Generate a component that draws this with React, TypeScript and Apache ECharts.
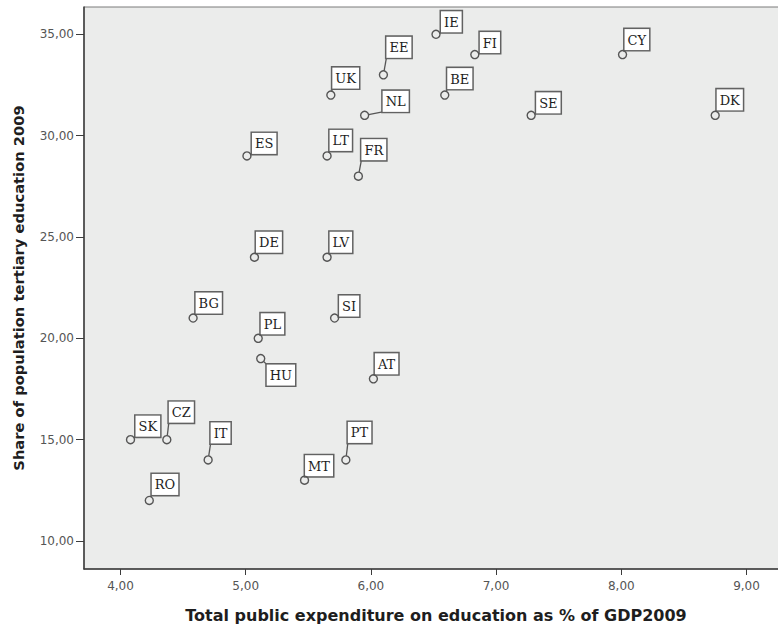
import React, { useEffect, useRef } from "react";
import * as echarts from "echarts";

// Country codes, x = public expenditure on education (% of GDP 2009), y = share tertiary education 2009
const countries = ["IE", "FI", "CY", "EE", "UK", "BE", "NL", "SE", "DK", "ES", "LT", "FR", "DE", "LV", "BG", "SI", "PL", "HU", "AT", "SK", "CZ", "IT", "PT", "MT", "RO"];
const expenditure = [6.52, 6.83, 8.01, 6.10, 5.68, 6.59, 5.95, 7.28, 8.75, 5.01, 5.65, 5.90, 5.07, 5.65, 4.58, 5.71, 5.10, 5.12, 6.02, 4.08, 4.37, 4.70, 5.80, 5.47, 4.23];
const tertiary = [35, 34, 34, 33, 32, 32, 31, 31, 31, 29, 29, 28, 24, 24, 21, 21, 20, 19, 18, 15, 15, 14, 14, 13, 12];

const xTicks = [4, 5, 6, 7, 8, 9];
const yTicks = [10, 15, 20, 25, 30, 35];

// Label box placement (pixel offset of the box corner from the point; last flag: box below point)
const labelPlacement: Record<string, [number, number, boolean]> = {
  IE: [5, -2, false], FI: [5, -1.5, false], CY: [2, -4.5, false], EE: [3, -17, false],
  UK: [1.5, -6.5, false], BE: [2.5, -6, false], NL: [18, -3.5, false], SE: [5, -2, false],
  DK: [1.5, -5, false], ES: [5, -2, false], LT: [2.5, -5, false], FR: [3, -16, false],
  DE: [1.5, -4.5, false], LV: [2.5, -4.5, false], BG: [2.5, -4.5, false], SI: [4.5, -1.5, false],
  PL: [2.5, -4, false], HU: [6, 6, true], AT: [1.5, -4.5, false], SK: [5, -3, false],
  CZ: [2, -17, false], IT: [2.5, -16.5, false], PT: [2, -17, false], MT: [0.5, -4, false],
  RO: [2.5, -5.5, false],
};

const fmt = (v: number) => v.toFixed(2).replace(".", ",");

export default function App() {
  const ref = useRef<HTMLDivElement>(null);
  useEffect(() => {
    if (!ref.current) return;
    const chart = echarts.init(ref.current, undefined, { renderer: "svg" });
    const points = countries.map((c, i) => [expenditure[i], tertiary[i], c]);
    const r = 4;
    chart.setOption({
      animation: false,
      backgroundColor: "#ffffff",
      grid: {
        left: 84, top: 7, width: 704, bottom: 60,
        outerBoundsMode: "none",
        containLabel: false,
        show: true, backgroundColor: "#ebeceb", borderColor: "#7a7a7a", borderWidth: 1,
      },
      xAxis: {
        type: "value", min: 3.7085, max: 9.3315,
        splitLine: { show: false },
        axisLine: { show: true, onZero: false, lineStyle: { color: "#3c3c3c", width: 1.5 } },
        axisTick: { show: true, customValues: xTicks, length: 6, lineStyle: { color: "#3c3c3c", width: 1 } },
        axisLabel: { customValues: xTicks, formatter: fmt, color: "#555", fontFamily: "DejaVu Sans", fontSize: 12, margin: 11 },
        name: "Total public expenditure on education as % of GDP2009",
        nameLocation: "middle", nameGap: 38,
        nameTextStyle: { fontFamily: "DejaVu Sans", fontWeight: "bold", fontSize: 16, color: "#1e1e1e" },
      },
      yAxis: {
        type: "value", min: 8.618, max: 36.347,
        splitLine: { show: false },
        axisLine: { show: true, onZero: false, lineStyle: { color: "#3c3c3c", width: 1.5 } },
        axisTick: { show: true, customValues: yTicks, length: 8, lineStyle: { color: "#3c3c3c", width: 1 } },
        axisLabel: { customValues: yTicks, formatter: fmt, color: "#555", fontFamily: "DejaVu Sans", fontSize: 12, margin: 10 },
        name: "Share of population tertiary education 2009",
        nameLocation: "middle", nameGap: 58,
        nameTextStyle: { fontFamily: "DejaVu Sans", fontWeight: "bold", fontSize: 14.7, color: "#1e1e1e" },
      },
      series: [
        {
          type: "custom",
          data: points,
          clip: false,
          renderItem: (params: any, api: any) => {
            const name = countries[params.dataIndex];
            const p = api.coord([api.value(0), api.value(1)]);
            const [dx, dy, below] = labelPlacement[name] || [3, -4, false];
            const cx = p[0] + dx, cy = p[1] + dy;
            const len = Math.hypot(dx, dy);
            const children: any[] = [];
            if (len > r + 0.5) {
              children.push({
                type: "line",
                shape: { x1: p[0] + (r * dx) / len, y1: p[1] + (r * dy) / len, x2: cx, y2: cy },
                style: { stroke: "#555", lineWidth: 1.3 },
              });
            }
            children.push({
              type: "text",
              x: cx, y: cy,
              style: {
                text: name, x: 0, y: 0,
                align: "left", verticalAlign: below ? "top" : "bottom",
                fill: "#1e1e1e", fontFamily: "DejaVu Serif", fontSize: 13, lineHeight: 14,
                backgroundColor: "#ffffff", borderColor: "#626262", borderWidth: 1.5,
                padding: [4, 3, 3, 3],
              },
            });
            children.push({
              type: "circle",
              shape: { cx: p[0], cy: p[1], r },
              style: { fill: "none", stroke: "#555", lineWidth: 1.4 },
            });
            return { type: "group", children };
          },
        },
      ],
    });
    return () => chart.dispose();
  }, []);
  return <div ref={ref} style={{ position: "fixed", left: 0, top: 0, width: 778, height: 629 }} />;
}
